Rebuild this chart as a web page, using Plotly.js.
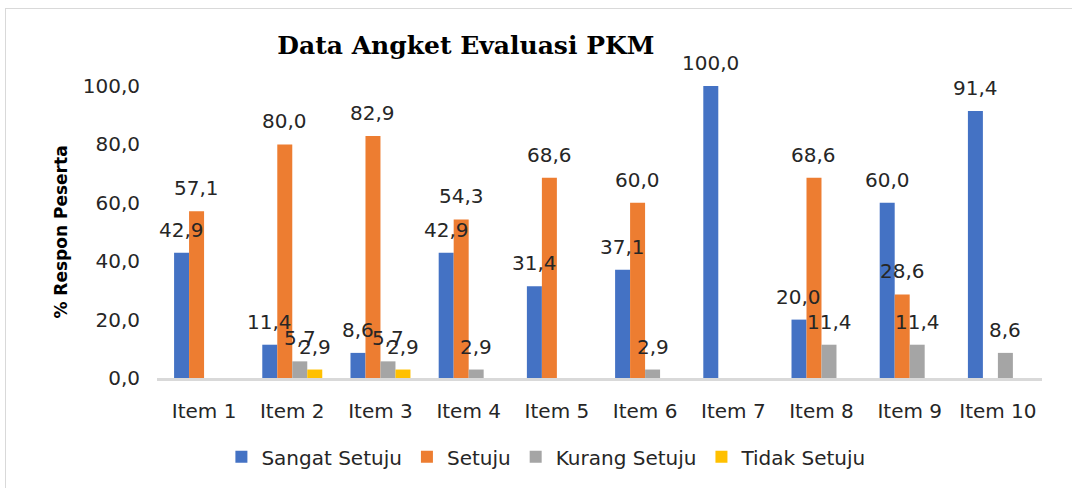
<!DOCTYPE html>
<html><head><meta charset="utf-8">
<script src="https://cdn.plot.ly/plotly-3.0.1.min.js"></script>
<style>
html,body{margin:0;padding:0;background:#fff;}
#wrap{position:relative;width:1072px;height:488px;}
#chart{width:1072px;height:488px;}
#frame{position:absolute;left:5px;top:8px;width:1070px;height:485px;border:1px solid #d9d9d9;pointer-events:none;}
</style></head>
<body>
<div id="wrap"><div id="chart"></div><div id="frame"></div></div>
<script>
const categories = ["Item 1","Item 2","Item 3","Item 4","Item 5","Item 6","Item 7","Item 8","Item 9","Item 10"];
const seriesNames = ["Sangat Setuju","Setuju","Kurang Setuju","Tidak Setuju"];
const sangatSetuju = [42.9,11.4,8.6,42.9,31.4,37.1,100.0,20.0,60.0,91.4];
const setuju = [57.1,80.0,82.9,54.3,68.6,60.0,0,68.6,28.6,0];
const kurangSetuju = [0,5.7,5.7,2.9,0,2.9,0,11.4,11.4,8.6];
const tidakSetuju = [0,2.9,2.9,0,0,0,0,0,0,0];
const colors = ["#4472c4","#ed7d31","#a5a5a5","#ffc000"];
const yTickVals = [0,20,40,60,80,100];

const FONT = "DejaVu Sans, sans-serif";
const allSeries = [sangatSetuju, setuju, kurangSetuju, tidakSetuju];

const W = 1072, H = 488;
const margin = {l: 157, r: 30, t: 86, b: 110};
const bargap = 0.32;
const plotW = W - margin.l - margin.r;
const barPx = plotW / categories.length * (1 - bargap) / allSeries.length;

const traces = allSeries.map((vals, i) => ({
  type: "bar",
  name: seriesNames[i],
  x: categories,
  y: vals,
  marker: {color: colors[i]},
  hoverinfo: "none"
}));

const annotations = [];
allSeries.forEach((vals, i) => {
  vals.forEach((v, j) => {
    if (v > 0) {
      annotations.push({
        x: categories[j], y: v, xref: "x", yref: "y",
        text: v.toFixed(1).replace(".", ","),
        showarrow: false,
        xshift: (i - (allSeries.length - 1) / 2) * barPx,
        yshift: 23, yanchor: "middle", xanchor: "center",
        font: {family: FONT, size: 20, color: "#262626"}
      });
    }
  });
});

const layout = {
  width: W, height: H,
  margin: margin,
  paper_bgcolor: "#fff", plot_bgcolor: "#fff",
  separators: ",.",
  barmode: "group",
  bargap: bargap,
  bargroupgap: 0,
  showlegend: true,
  annotations: annotations,
  title: {
    text: "<b>Data Angket Evaluasi PKM</b>",
    font: {family: "DejaVu Serif, serif", size: 25, color: "#000"},
    x: 0.349, xanchor: "center", xref: "paper",
    y: 0.908, yanchor: "middle", yref: "container"
  },
  xaxis: {
    type: "category",
    showgrid: false, zeroline: false,
    showline: true, linecolor: "#d9d9d9", linewidth: 3,
    ticks: "", ticklabelstandoff: 13,
    tickfont: {family: FONT, size: 20, color: "#262626"}
  },
  yaxis: {
    range: [0, 100],
    tickvals: yTickVals,
    tickformat: ".1f",
    showgrid: false, zeroline: false, showline: false,
    ticks: "", ticklabelstandoff: 16,
    tickfont: {family: FONT, size: 20, color: "#262626"},
    title: {text: "<b>% Respon Peserta</b>", standoff: 10,
      font: {family: FONT, size: 17, color: "#000"}}
  },
  legend: {
    orientation: "h",
    x: 0.44, xanchor: "center",
    y: -0.27, yanchor: "middle",
    font: {family: FONT, size: 20, color: "#262626"},
    itemwidth: 30,
    traceorder: "normal"
  }
};

Plotly.newPlot("chart", traces, layout, {displayModeBar: false, staticPlot: true});
</script>
</body></html>
